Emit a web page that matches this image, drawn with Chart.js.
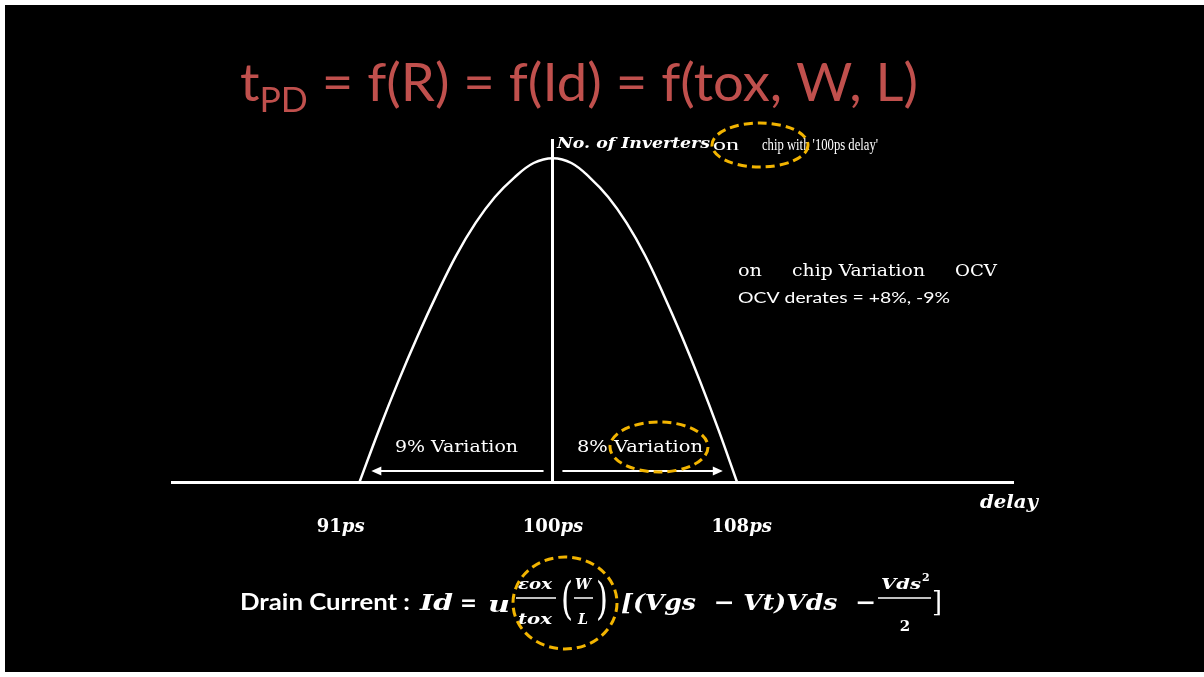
<!DOCTYPE html>
<html>
<head>
<meta charset="utf-8">
<script src="https://cdn.jsdelivr.net/npm/chart.js@4.4.1/dist/chart.umd.min.js"></script>
<style>
  html, body { margin: 0; padding: 0; background: #fff; }
  #wrap { position: relative; width: 1204px; height: 677px; }
</style>
</head>
<body>
<div id="wrap"><canvas id="ocv" width="1204" height="677"></canvas></div>
<script>
// Inverter delay spread: count of inverters on chip vs. delay (ps)
const delayPs = [91.8, 92.62, 93.44, 94.26, 95.08, 95.9, 96.72, 97.54, 98.36, 99.18, 100,
                 100.78, 101.56, 102.34, 103.12, 103.9, 104.68, 105.46, 106.24, 107.02, 107.8];
const inverterCount = [0, 16, 31, 45, 58, 70, 80, 88, 94, 98.5, 100,
                       98.5, 94, 88, 80, 70, 58, 45, 31, 16, 0];
const tickDelays = [91, 100, 108];
const nominalDelay = 100;
// variation arrows: [from, to] in ps, drawn just above the axis
const slowArrow = [99.6, 92.3];
const fastArrow = [100.4, 107.2];

const RED = '#c0504d';
const GOLD = '#f2b400';
const SERIF = '"DejaVu Serif", serif';
const TIMES = '"Liberation Serif", serif';
const SANS = 'Lato, "Open Sans", sans-serif';

function put(ctx, s, x, y, font, opts) {
  opts = opts || {};
  ctx.save();
  ctx.font = font;
  ctx.fillStyle = opts.color || '#fff';
  ctx.textBaseline = opts.base || 'middle';
  ctx.textAlign = 'left';
  const w = ctx.measureText(s).width;
  const out = opts.width || w;
  let x0 = x;
  if (opts.align === 'center') x0 = x - out / 2;
  ctx.translate(x0, y);
  if (opts.width) ctx.scale(opts.width / w, 1);
  ctx.fillText(s, 0, 0);
  ctx.restore();
  return out;
}

function dashedEllipse(ctx, cx, cy, rx, ry) {
  ctx.save();
  ctx.strokeStyle = GOLD;
  ctx.lineWidth = 3;
  ctx.setLineDash([9, 5]);
  ctx.beginPath();
  ctx.ellipse(cx, cy, rx, ry, 0, 0, Math.PI * 2);
  ctx.stroke();
  ctx.restore();
}

function arrow(ctx, x1, x2, y) {
  const dir = Math.sign(x2 - x1);
  ctx.save();
  ctx.strokeStyle = '#fff';
  ctx.fillStyle = '#fff';
  ctx.lineWidth = 2;
  ctx.beginPath();
  ctx.moveTo(x1, y);
  ctx.lineTo(x2 - dir * 8, y);
  ctx.stroke();
  ctx.beginPath();
  ctx.moveTo(x2, y);
  ctx.lineTo(x2 - dir * 10, y - 4.5);
  ctx.lineTo(x2 - dir * 10, y + 4.5);
  ctx.closePath();
  ctx.fill();
  ctx.restore();
}

const slideBackground = {
  id: 'slideBackground',
  beforeDraw(chart) {
    const ctx = chart.ctx;
    ctx.save();
    ctx.fillStyle = '#fff';
    ctx.fillRect(0, 0, chart.width, chart.height);
    ctx.fillStyle = '#000';
    ctx.fillRect(5, 5, chart.width - 5, chart.height - 10);
    ctx.restore();
  }
};

const slideText = {
  id: 'slideText',
  afterDraw(chart) {
    const ctx = chart.ctx;
    const xs = chart.scales.x, ys = chart.scales.y;

    // title: t_PD = f(R) = f(Id) = f(tox, W, L)
    ctx.save();
    const big = '52px ' + SANS, sub = '34px ' + SANS;
    ctx.font = big;
    const wt = ctx.measureText('t').width;
    const rest = ' = f(R) = f(Id) = f(tox, W, L)';
    const wr = ctx.measureText(rest).width;
    ctx.font = sub;
    const ws = ctx.measureText('PD').width;
    const sx = 678 / (wt + ws + wr);
    ctx.translate(240, 0);
    ctx.scale(sx, 1);
    ctx.fillStyle = RED;
    ctx.textBaseline = 'alphabetic';
    ctx.font = big;
    ctx.fillText('t', 0, 101);
    ctx.font = sub;
    ctx.fillText('PD', wt, 112);
    ctx.font = big;
    ctx.fillText(rest, wt + ws, 101);
    ctx.restore();

    // label at the top of the vertical axis
    put(ctx, 'No. of Inverters', 557, 144, 'italic bold 15px ' + SERIF, { width: 153 });
    put(ctx, 'on', 713, 146, '16px ' + TIMES, { width: 26 });
    put(ctx, "chip with '100ps delay'", 762, 146, '16px ' + TIMES, { width: 116 });

    // on-chip variation note
    put(ctx, 'on', 738, 272, '16px ' + SERIF, { width: 24 });
    put(ctx, 'chip Variation', 792, 272, '16px ' + SERIF, { width: 133 });
    put(ctx, 'OCV', 955, 272, '16px ' + SERIF, { width: 42 });
    put(ctx, 'OCV derates = +8%, -9%', 738, 298, '16px ' + SANS, { width: 212 });

    // variation labels and arrows
    const yArrow = ys.getPixelForValue(3.4);
    put(ctx, '9% Variation', 395, 448, '16px ' + SERIF, { width: 123 });
    put(ctx, '8% Variation', 577, 448, '16px ' + SERIF, { width: 126 });
    arrow(ctx, xs.getPixelForValue(slowArrow[0]), xs.getPixelForValue(slowArrow[1]), yArrow);
    arrow(ctx, xs.getPixelForValue(fastArrow[0]), xs.getPixelForValue(fastArrow[1]), yArrow);

    // axis title and delay ticks
    put(ctx, 'delay', 980, 503, 'italic bold 18px ' + SERIF, { width: 58 });
    tickDelays.forEach(v => {
      const cx = xs.getPixelForValue(v);
      ctx.save();
      ctx.font = 'bold 18px ' + SERIF;
      const wn = ctx.measureText(String(v)).width;
      ctx.font = 'italic bold 18px ' + SERIF;
      const wp = ctx.measureText('ps').width;
      ctx.restore();
      const left = cx - (wn + wp) / 2;
      put(ctx, String(v), left, 527, 'bold 18px ' + SERIF);
      put(ctx, 'ps', left + wn, 527, 'italic bold 18px ' + SERIF);
    });

    // drain current equation
    const M = 'italic bold 23px ' + SERIF;
    put(ctx, 'Drain Current :', 240, 603, 'bold 22px ' + SANS, { width: 170 });
    put(ctx, 'Id', 420, 604, M, { width: 33 });
    put(ctx, '=', 460, 604, 'bold 22px ' + SERIF, { width: 17 });
    put(ctx, 'u', 488, 606, M, { width: 22 });
    put(ctx, 'εox', 535, 585, 'italic bold 15px ' + SERIF, { align: 'center', width: 34 });
    put(ctx, 'tox', 535, 620, 'italic bold 15px ' + SERIF, { align: 'center', width: 34 });
    put(ctx, 'W', 583, 585, 'italic bold 15px ' + SERIF, { align: 'center', width: 16 });
    put(ctx, 'L', 583, 620, 'italic bold 15px ' + SERIF, { align: 'center', width: 10 });
    put(ctx, '(', 561, 603, '44px ' + SERIF, { width: 12 });
    put(ctx, ')', 596, 603, '44px ' + SERIF, { width: 12 });
    put(ctx, '[(Vgs  − Vt)Vds  −', 621, 604, M, { width: 255 });
    put(ctx, 'Vds', 881, 585, 'italic bold 15px ' + SERIF, { width: 40 });
    put(ctx, '2', 922, 578, 'bold 11px ' + SERIF);
    put(ctx, '2', 905, 627, 'bold 15px ' + SERIF, { align: 'center' });
    put(ctx, ']', 932, 604, '28px ' + SERIF, { width: 10 });
    ctx.save();
    ctx.strokeStyle = '#fff';
    ctx.lineWidth = 1.5;
    ctx.beginPath();
    ctx.moveTo(516, 598); ctx.lineTo(556, 598);
    ctx.moveTo(574, 598); ctx.lineTo(593, 598);
    ctx.moveTo(878, 598); ctx.lineTo(931, 598);
    ctx.stroke();
    ctx.restore();

    // highlighted terms
    dashedEllipse(ctx, 760, 145, 48, 22);
    dashedEllipse(ctx, 659, 447, 49, 25);
    dashedEllipse(ctx, 565, 603, 52, 46);
  }
};

new Chart(document.getElementById('ocv'), {
  type: 'line',
  data: {
    datasets: [{
      data: delayPs.map((d, i) => ({ x: d, y: inverterCount[i] })),
      borderColor: '#fff',
      borderWidth: 2.5,
      pointRadius: 0,
      tension: 0.4,
      clip: false
    }]
  },
  options: {
    responsive: false,
    animation: false,
    layout: { padding: { left: 172, right: 191, top: 140, bottom: 187 } },
    plugins: { legend: { display: false }, tooltip: { enabled: false } },
    scales: {
      x: {
        type: 'linear', min: 83.85, max: 119.5,
        grid: { display: false },
        ticks: { display: false },
        border: { color: '#fff', width: 3 }
      },
      y: {
        min: 0, max: 105.6,
        position: { x: nominalDelay },
        grid: { display: false },
        ticks: { display: false },
        border: { color: '#fff', width: 3 }
      }
    }
  },
  plugins: [slideBackground, slideText]
});
</script>
</body>
</html>
